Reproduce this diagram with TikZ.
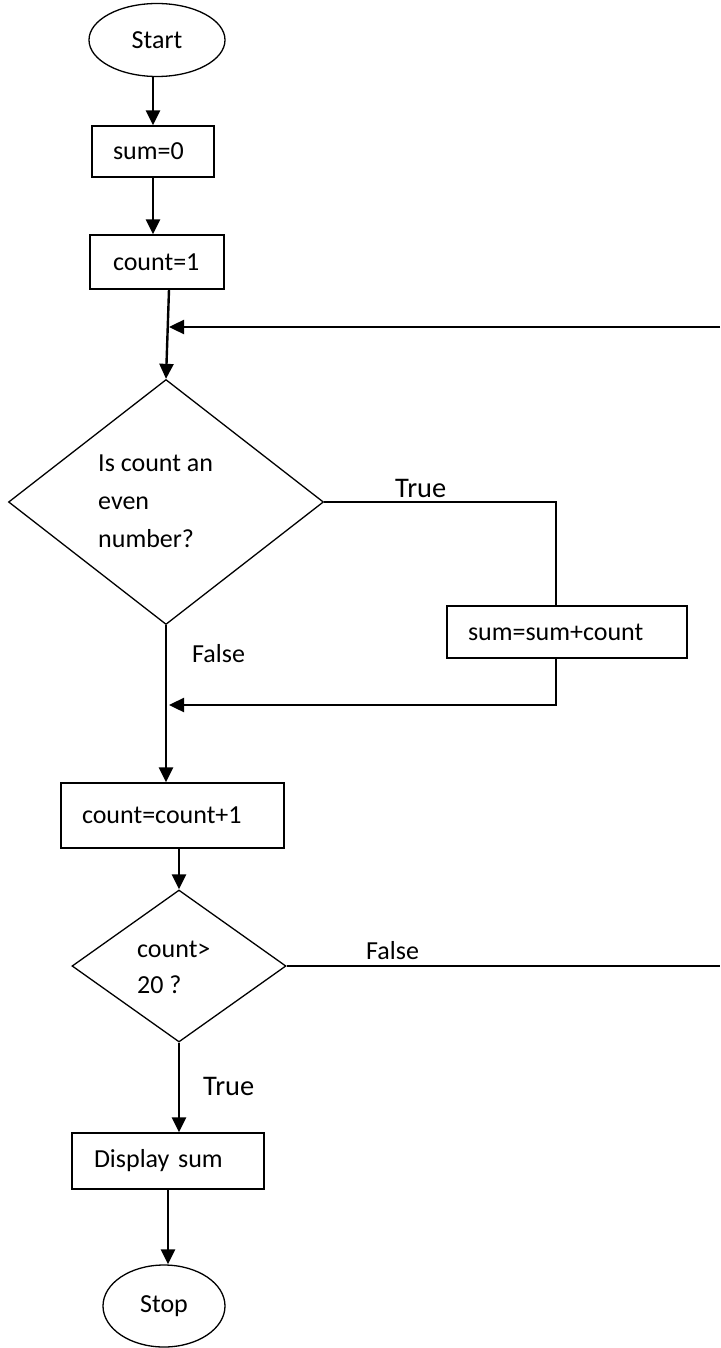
\documentclass[tikz,border=0pt]{standalone}
\usepackage{fontspec}
\setmainfont{Carlito}
\usetikzlibrary{shapes.geometric,arrows.meta}
\begin{document}
\begin{tikzpicture}[x=1pt,y=-1pt,
  every node/.style={font=\fontsize{26}{31}\selectfont},
  term/.style={draw, ellipse, line width=1.3pt, inner sep=0pt},
  pbox/.style={draw, rectangle, line width=1.3pt, align=left, inner ysep=0pt},
  decision/.style={draw, diamond, line width=1.3pt, inner sep=0pt},
  flow/.style={line width=2.4pt, -{Triangle[length=15pt,width=14pt]}},
  thickline/.style={line width=2.4pt},
  plainline/.style={line width=1.6pt},
  lbl/.style={anchor=base west, inner sep=0pt},
  biglbl/.style={lbl, font=\fontsize{28.4}{34}\selectfont}
]
\useasboundingbox (0,0) rectangle (720,1348);

% shapes
\node[term, minimum width=136pt, minimum height=73pt] (start) at (157,40) {Start};
\node[pbox, minimum height=51pt, text width=80pt, inner xsep=21pt] (sum0) at (153,151.5) {sum=0};
\node[pbox, minimum height=54pt, text width=88pt, inner xsep=23pt] (count1) at (157,262) {count=1};
\node[decision, minimum width=315pt, minimum height=245pt] (d1) at (166,502) {};
\node[anchor=west, align=left, inner sep=0pt, font=\fontsize{26}{38}\selectfont] (q1) at (98,501) {Is count an\\even\\number?};
\node[pbox, minimum height=52pt, text width=198pt, inner xsep=21pt] (ssc) at (567,632) {sum=sum+count};
\node[pbox, minimum height=65pt, text width=181pt, inner xsep=21pt] (cc) at (172.5,815.5) {count=count+1};
\node[decision, minimum width=214pt, minimum height=152pt] (d2) at (179,966) {};
\node[anchor=west, align=left, inner sep=0pt, font=\fontsize{26}{36}\selectfont] (q2) at (137,967) {count>\\20 ?};
\node[pbox, minimum height=56pt, text width=148pt, inner xsep=22pt] (disp) at (168,1161) {Display sum};
\node[term, minimum width=122pt, minimum height=82pt] (stop) at (164,1306) {Stop};

% labels
\node[biglbl] (t1) at (395,497) {True};
\node[lbl] (f1) at (192,662) {False};
\node[lbl] (f2) at (366,959) {False};
\node[biglbl] (t2) at (203,1095) {True};

% helper coordinates
\coordinate (loopR) at (720,327);
\coordinate (loopL) at (169,327);
\coordinate (tb) at (556,505);
\coordinate (mergeL) at (169,705);
\coordinate (falseR) at (720,971);

% connectors
\draw[flow] ([xshift=-4pt]start.south) -- (sum0.north);
\draw[flow] (sum0.south) -- (sum0.south |- count1.north);
\draw[flow] ([xshift=12pt]count1.south) -- (d1.north);
\draw[flow] (loopR) -- (loopL);
\draw[plainline] (d1.east) -- (d1.east -| tb) -- (tb |- ssc.north);
\draw[flow] (tb |- ssc.south) -- (tb |- mergeL) -- (mergeL);
\draw[flow] (d1.south) -- (d1.south |- cc.north);
\draw[flow] (d2.north |- cc.south) -- (d2.north);
\draw[thickline] (d2.east) -- (d2.east -| falseR);
\draw[flow] (d2.south) -- (d2.south |- disp.north);
\draw[flow] (disp.south) -- (disp.south |- stop.north);
\end{tikzpicture}
\end{document}
